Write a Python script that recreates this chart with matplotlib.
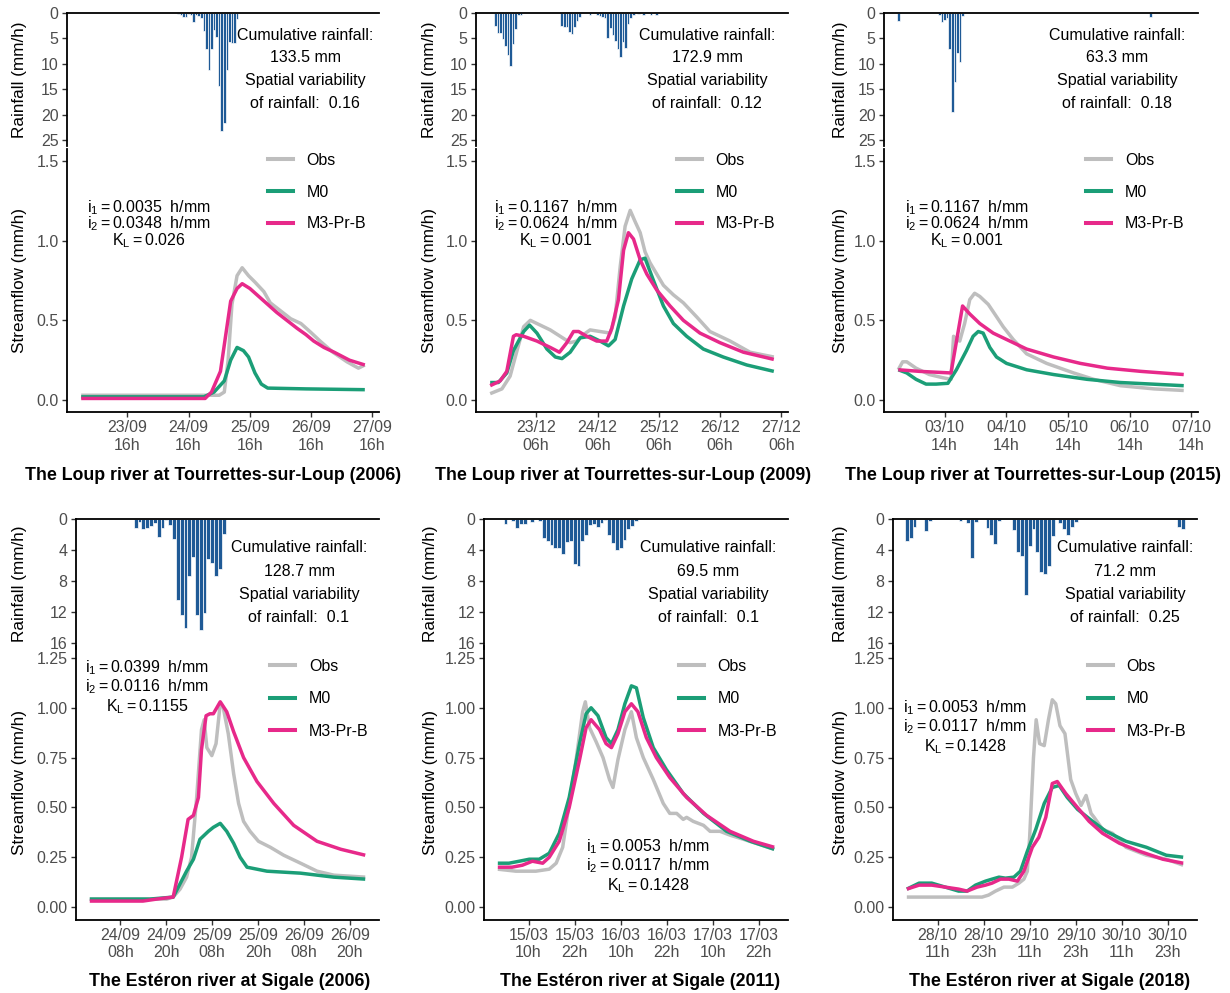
import matplotlib.pyplot as plt
from matplotlib.lines import Line2D

plt.rcParams["font.family"] = ["Liberation Sans", "DejaVu Sans"]
plt.rcParams["mathtext.fontset"] = "custom"
plt.rcParams["mathtext.rm"] = "Liberation Sans"
plt.rcParams["mathtext.it"] = "Liberation Sans:italic"
plt.rcParams["mathtext.bf"] = "Liberation Sans:bold"

OBS_COLOR = "#BEBEBE"
M0_COLOR = "#1B9E77"
M3_COLOR = "#E7298A"
RAIN_COLOR = "#1F5A96"
TICK_GRAY = "#4D4D4D"

TICK_SIZE = 11.5
AXIS_TITLE_SIZE = 12.3
TEXT_SIZE = 11.5
TITLE_SIZE = 12.8

# ---------------------------------------------------------------
# Data (time in hours from the first x tick of each panel)
# ---------------------------------------------------------------
# Loup 2006
L06_RAIN_T = list(range(20, 44))
L06_RAIN = [0.2, 0.3, 0.8, 0.8, 0.2, 0.3, 1.8, 0.3, 0.5, 1.0, 3.5, 7.0,
            11.2, 7.0, 3.3, 4.8, 14.3, 23.3, 21.7, 11.2, 5.7, 6.0, 6.0, 1.2]
L06_OBS_T = [-18, 30, 36, 38, 39.5, 41, 43, 45, 47.5, 50, 53.5, 56, 60, 64,
             68, 71.5, 75.5, 80.5, 86, 90.5, 93]
L06_OBS = [0.03, 0.03, 0.03, 0.05, 0.25, 0.6, 0.78, 0.83, 0.78, 0.74, 0.68,
           0.61, 0.56, 0.51, 0.48, 0.43, 0.37, 0.30, 0.24, 0.20, 0.22]
L06_M0_T = [-18, 30, 34, 38, 40.5, 43, 45.5, 47.5, 50, 52.5, 55, 70, 93]
L06_M0 = [0.02, 0.02, 0.05, 0.12, 0.25, 0.33, 0.31, 0.27, 0.17, 0.10, 0.075,
          0.07, 0.065]
L06_M3_T = [-18, 30.5, 33, 36.5, 38.5, 40.5, 43, 45, 48, 51.5, 55, 58.5, 62.5,
            66.5, 70, 73, 77, 81, 87, 93]
L06_M3 = [0.01, 0.01, 0.05, 0.18, 0.40, 0.62, 0.70, 0.73, 0.70, 0.65, 0.60,
          0.55, 0.50, 0.45, 0.41, 0.37, 0.33, 0.30, 0.25, 0.22]

# Loup 2009
L09_RAIN_T = [-16, -15, -14, -13, -12, -11, -10, -9, -8, -7, -6,
              10, 11, 12, 13, 14, 15, 16, 17, 21,
              24, 25, 26, 27, 28, 29, 30, 31, 32, 33, 34, 35, 36, 37, 38,
              40, 42, 45, 47]
L09_RAIN = [2.5, 3.9, 4.0, 5.2, 6.5, 8.3, 10.5, 6.1, 3.1, 0.3, 0.3,
            2.5, 2.7, 2.8, 3.7, 4.2, 2.7, 1.5, 0.7, 0.3,
            0.4, 0.6, 0.8, 1.0, 5.0, 3.0, 4.3, 5.5, 7.0, 8.6, 5.8, 6.8, 2.2,
            1.0, 0.3, 0.2, 0.3, 0.3, 0.3]
L09_OBS_T = [-18, -13.4, -10.2, -7.5, -4.9, -2.3, 1.6, 5.5, 9.4, 13.3, 15.9,
             18.5, 21.1, 25, 29, 30.9, 32.9, 34.8, 36.8, 38.7, 40.7, 42.6,
             44.6, 47.2, 49.8, 53.7, 57.6, 62.9, 68, 75.9, 83.7, 93]
L09_OBS = [0.04, 0.07, 0.15, 0.31, 0.46, 0.50, 0.47, 0.44, 0.40, 0.36, 0.37,
           0.41, 0.44, 0.43, 0.42, 0.52, 0.84, 1.09, 1.19, 1.12, 1.05, 0.93,
           0.86, 0.79, 0.72, 0.66, 0.61, 0.52, 0.43, 0.37, 0.30, 0.27]
L09_M0_T = [-18, -14.8, -11.5, -8.9, -4.9, -2.6, 0.3, 4.2, 7.5, 10.1, 13.3,
            17.2, 21.1, 25, 28.3, 30.9, 34.2, 37.4, 40.7, 42.6, 45.9, 49.8,
            53.7, 58.9, 65.4, 73.2, 82.4, 93]
L09_M0 = [0.11, 0.11, 0.17, 0.31, 0.43, 0.47, 0.42, 0.32, 0.27, 0.26, 0.30,
          0.39, 0.40, 0.37, 0.34, 0.38, 0.59, 0.76, 0.88, 0.89, 0.75, 0.59,
          0.48, 0.40, 0.32, 0.27, 0.22, 0.18]
L09_M3_T = [-18, -14.1, -11.5, -8.9, -7.8, -4.9, 0.3, 5.5, 9.1, 12, 14.6,
            16.6, 19.8, 23.7, 27.6, 29.6, 32.2, 34.2, 36.1, 38.1, 40.7, 43.3,
            47.2, 52.4, 57.6, 64.1, 71.9, 81.1, 93]
L09_M3 = [0.09, 0.12, 0.18, 0.40, 0.41, 0.40, 0.37, 0.33, 0.30, 0.36, 0.43,
          0.43, 0.40, 0.37, 0.37, 0.45, 0.63, 0.94, 1.05, 1.01, 0.88, 0.79,
          0.69, 0.59, 0.50, 0.42, 0.36, 0.30, 0.255]

# Loup 2015
L15_RAIN_T = [-18, -2, -1, 0, 1, 2, 3, 4, 5, 6, 7, 80]
L15_RAIN = [1.5, 0.3, 1.8, 1.4, 1.0, 7.0, 19.5, 13.5, 7.8, 9.6, 0.5, 0.7]
L15_OBS_T = [-18, -16.3, -14.7, -11.1, -5.9, -0.7, 2.5, 3.5, 4.6, 5.9, 7.8,
             9.8, 11.7, 13.7, 17, 19.5, 22.8, 26.7, 31.9, 39.7, 50.2, 58,
             68.4, 81.5, 93]
L15_OBS = [0.19, 0.24, 0.24, 0.20, 0.16, 0.14, 0.13, 0.40, 0.38, 0.37, 0.48,
           0.63, 0.67, 0.65, 0.60, 0.54, 0.46, 0.38, 0.29, 0.23, 0.17, 0.13,
           0.09, 0.07, 0.06]
L15_M0_T = [-18, -14.7, -11.1, -7.2, -3.3, 1.3, 4.6, 8.5, 11.1, 13.1, 15,
            17.6, 20.2, 24.1, 31.9, 42.4, 55.4, 68.4, 93]
L15_M0 = [0.19, 0.17, 0.13, 0.10, 0.10, 0.105, 0.19, 0.31, 0.40, 0.43, 0.42,
          0.33, 0.27, 0.23, 0.19, 0.16, 0.13, 0.11, 0.09]
L15_M3_T = [-18, -9.8, 2.5, 7, 9.8, 13.7, 18.9, 24.1, 31.9, 42.4, 52.8, 63.3,
            76.3, 93]
L15_M3 = [0.19, 0.18, 0.17, 0.59, 0.54, 0.48, 0.42, 0.38, 0.32, 0.27, 0.23,
          0.20, 0.18, 0.16]

# Esteron 2006
E06_RAIN_T = list(range(4, 28))
E06_RAIN = [1.1, 0.4, 1.3, 1.2, 0.9, 0.5, 2.3, 1.1, 0.1, 0.8, 2.6, 10.5,
            12.4, 14.0, 7.3, 4.9, 12.4, 14.3, 12.1, 5.1, 5.7, 7.3, 6.5, 1.9]
E06_OBS_T = [-8, 12.1, 13.8, 15.6, 17.3, 18.6, 19.9, 21.2, 21.9, 22.6, 23.9,
             25, 26.1, 26.9, 28.2, 29.6, 30.9, 32.2, 33.9, 36.1, 39.2, 42.7,
             47.1, 51.4, 55.8, 64]
E06_OBS = [0.04, 0.04, 0.05, 0.09, 0.15, 0.25, 0.54, 0.89, 0.94, 0.80, 0.76,
           0.82, 1.02, 1.00, 0.87, 0.67, 0.52, 0.43, 0.38, 0.33, 0.30, 0.26,
           0.22, 0.18, 0.16, 0.15]
E06_M0_T = [-8, 7.7, 13.8, 17.3, 19.1, 20.8, 23, 24.3, 26.1, 27.8, 29.6, 31.3,
            33.1, 38.3, 47.1, 55.8, 64]
E06_M0 = [0.04, 0.04, 0.05, 0.18, 0.24, 0.34, 0.38, 0.40, 0.42, 0.38, 0.32,
          0.25, 0.20, 0.18, 0.17, 0.15, 0.14]
E06_M3_T = [-8, 5.9, 9.5, 13.8, 16, 17.7, 19.1, 20.4, 21.2, 22.4, 23.4, 24.3,
            26.1, 27.8, 29.6, 32.2, 35.7, 40.1, 45.3, 51.4, 57.6, 64]
E06_M3 = [0.03, 0.03, 0.04, 0.05, 0.25, 0.44, 0.46, 0.55, 0.79, 0.96, 0.97,
          0.97, 1.03, 0.98, 0.88, 0.75, 0.63, 0.52, 0.41, 0.33, 0.29, 0.26]

# Esteron 2011
E11_RAIN_T = [-6, -4, -3, -2, -1, 1, 3, 4, 5, 6, 7, 8, 9, 10, 11, 12, 13, 14,
              15, 16, 17, 18, 19, 20, 21, 22, 23, 24, 25, 26, 27, 28]
E11_RAIN = [0.7, 0.3, 1.2, 0.7, 0.6, 0.4, 0.2, 2.5, 2.8, 3.4, 3.8, 3.7, 4.5,
            3.0, 2.9, 5.8, 6.0, 2.8, 2.0, 0.8, 0.6, 1.0, 0.5, 0.1, 2.1, 3.1,
            4.0, 3.8, 2.7, 1.3, 0.9, 0.2]
E11_OBS_T = [-8, -3.3, 1.9, 5.4, 7.2, 8.9, 10.6, 12.4, 14.1, 14.8, 15.9, 17.6,
             19.4, 21.1, 22, 23.3, 25.1, 26.8, 28.1, 29.9, 32.5, 35.1, 36.8,
             38.6, 40.3, 41.2, 42.9, 45.6, 47.3, 49.9, 52.6, 56, 64]
E11_OBS = [0.19, 0.18, 0.18, 0.19, 0.22, 0.30, 0.52, 0.74, 0.98, 1.03, 0.90,
           0.83, 0.75, 0.64, 0.60, 0.74, 0.89, 0.98, 0.85, 0.75, 0.64, 0.52,
           0.47, 0.47, 0.44, 0.45, 0.43, 0.41, 0.38, 0.38, 0.36, 0.34, 0.29]
E11_M0_T = [-8, -5.1, -2.4, 0.2, 2.8, 5.4, 8, 10.6, 13.3, 15, 16.3, 18.1, 20.2,
            21.6, 23.3, 25.1, 26.8, 28.1, 29.9, 32.5, 35.9, 40.3, 45.6, 51.6,
            57.8, 64]
E11_M0 = [0.22, 0.22, 0.23, 0.24, 0.24, 0.27, 0.37, 0.55, 0.82, 0.97, 1.00,
          0.96, 0.85, 0.82, 0.89, 1.02, 1.11, 1.10, 0.95, 0.80, 0.69, 0.57,
          0.47, 0.38, 0.33, 0.29]
E11_M3_T = [-8, -4.3, -1.6, 1, 3.7, 5.4, 8, 10.6, 13.3, 15, 16.3, 18.5, 20.2,
            21.6, 23.3, 25.1, 26.8, 28.5, 30.7, 33.3, 36.8, 41.2, 46.4, 52.5,
            58.6, 64]
E11_M3 = [0.20, 0.20, 0.21, 0.23, 0.22, 0.25, 0.33, 0.50, 0.74, 0.90, 0.94,
          0.89, 0.82, 0.80, 0.87, 0.98, 1.02, 0.98, 0.85, 0.75, 0.65, 0.55,
          0.46, 0.38, 0.33, 0.30]

# Esteron 2018
E18_RAIN_T = [-8, -7, -6, -3, -2, 6, 8, 9, 10, 13, 14, 15, 16, 20, 21, 22, 23,
              24, 25, 26, 27, 28, 29, 30, 32, 33, 34, 35, 36, 63, 64]
E18_RAIN = [2.9, 2.4, 1.0, 1.5, 0.2, 0.2, 0.5, 5.0, 0.4, 1.1, 2.1, 3.2, 0.3,
            1.4, 4.2, 4.8, 9.8, 3.5, 1.3, 4.2, 6.9, 7.1, 6.1, 2.2, 0.5, 1.3,
            2.0, 1.0, 0.4, 1.0, 1.3]
E18_OBS_T = [-8, 11.6, 13.3, 15.1, 17.3, 19.5, 21.2, 22.5, 23.4, 24, 25, 25.7,
             26.6, 27.8, 28.9, 29.9, 30.8, 31.9, 33.2, 34.7, 36, 37.4, 38.7,
             40, 40.8, 43, 45.6, 49.1, 54.4, 59.6, 64]
E18_OBS = [0.05, 0.05, 0.06, 0.08, 0.10, 0.10, 0.12, 0.14, 0.18, 0.35, 0.75,
           0.94, 0.82, 0.81, 0.94, 1.04, 1.02, 0.91, 0.87, 0.64, 0.57, 0.51,
           0.56, 0.47, 0.45, 0.39, 0.37, 0.30, 0.26, 0.24, 0.21]
E18_M0_T = [-8, -4.8, -1.5, 2, 5.5, 7.7, 9.9, 12.5, 14.2, 16, 17.7, 19.9, 21.6,
            23.4, 25.6, 27.8, 29.9, 31.7, 33.8, 36.5, 40.4, 43.9, 49.1, 54.4,
            59.6, 64]
E18_M0 = [0.09, 0.12, 0.12, 0.10, 0.08, 0.08, 0.11, 0.13, 0.14, 0.15, 0.145,
          0.15, 0.18, 0.28, 0.39, 0.52, 0.60, 0.61, 0.55, 0.49, 0.43, 0.38,
          0.33, 0.30, 0.26, 0.25]
E18_M3_T = [-8, -4.8, -1.5, 2, 5.5, 7.7, 10.3, 12.5, 14.2, 16.4, 18.6, 20.8,
            22.5, 24.7, 26.4, 28.2, 29.9, 31.2, 33.4, 36, 39.5, 43, 47.4, 52.6,
            58.7, 64]
E18_M3 = [0.09, 0.11, 0.11, 0.10, 0.09, 0.08, 0.10, 0.11, 0.12, 0.14, 0.14,
          0.13, 0.18, 0.30, 0.35, 0.45, 0.62, 0.63, 0.57, 0.51, 0.43, 0.37,
          0.32, 0.28, 0.24, 0.22]

TOP_TICK_LABELS = [
    ["23/09\n16h", "24/09\n16h", "25/09\n16h", "26/09\n16h", "27/09\n16h"],
    ["23/12\n06h", "24/12\n06h", "25/12\n06h", "26/12\n06h", "27/12\n06h"],
    ["03/10\n14h", "04/10\n14h", "05/10\n14h", "06/10\n14h", "07/10\n14h"],
]
BOTTOM_TICK_LABELS = [
    ["24/09\n08h", "24/09\n20h", "25/09\n08h", "25/09\n20h", "26/09\n08h", "26/09\n20h"],
    ["15/03\n10h", "15/03\n22h", "16/03\n10h", "16/03\n22h", "17/03\n10h", "17/03\n22h"],
    ["28/10\n11h", "28/10\n23h", "29/10\n11h", "29/10\n23h", "30/10\n11h", "30/10\n23h"],
]
TITLES = [
    "The Loup river at Tourrettes-sur-Loup (2006)",
    "The Loup river at Tourrettes-sur-Loup (2009)",
    "The Loup river at Tourrettes-sur-Loup (2015)",
    "The Estéron river at Sigale (2006)",
    "The Estéron river at Sigale (2011)",
    "The Estéron river at Sigale (2018)",
]
CUM_RAIN = ["133.5", "172.9", "63.3", "128.7", "69.5", "71.2"]
SPATIAL_VAR = ["0.16", "0.12", "0.18", "0.1", "0.1", "0.25"]
PARAMS = [
    ("0.0035", "0.0348", "0.026"),
    ("0.1167", "0.0624", "0.001"),
    ("0.1167", "0.0624", "0.001"),
    ("0.0399", "0.0116", "0.1155"),
    ("0.0053", "0.0117", "0.1428"),
    ("0.0053", "0.0117", "0.1428"),
]

SERIES = [
    (L06_RAIN_T, L06_RAIN, L06_OBS_T, L06_OBS, L06_M0_T, L06_M0, L06_M3_T, L06_M3),
    (L09_RAIN_T, L09_RAIN, L09_OBS_T, L09_OBS, L09_M0_T, L09_M0, L09_M3_T, L09_M3),
    (L15_RAIN_T, L15_RAIN, L15_OBS_T, L15_OBS, L15_M0_T, L15_M0, L15_M3_T, L15_M3),
    (E06_RAIN_T, E06_RAIN, E06_OBS_T, E06_OBS, E06_M0_T, E06_M0, E06_M3_T, E06_M3),
    (E11_RAIN_T, E11_RAIN, E11_OBS_T, E11_OBS, E11_M0_T, E11_M0, E11_M3_T, E11_M3),
    (E18_RAIN_T, E18_RAIN, E18_OBS_T, E18_OBS, E18_M0_T, E18_M0, E18_M3_T, E18_M3),
]

# ---------------------------------------------------------------
# Layout (pixels)
# ---------------------------------------------------------------
W, H = 1230, 993
fig = plt.figure(figsize=(W / 100, H / 100), dpi=100)
fig.patch.set_facecolor("white")


def add_px_axes(left, top, right, bottom):
    return fig.add_axes([left / W, 1 - bottom / H, (right - left) / W, (bottom - top) / H])


def fig_text(x, y, s, **kw):
    fig.text(x / W, 1 - y / H, s, **kw)


def style_axis(ax):
    for side in ["left", "bottom", "top", "right"]:
        ax.spines[side].set_linewidth(1.3)
        ax.spines[side].set_color("black")
    ax.tick_params(axis="both", length=3.5, width=1.0, color="#333333",
                   labelsize=TICK_SIZE, labelcolor=TICK_GRAY, pad=2.5)


TOP_COLS = [(67, 379), (476, 788), (884, 1198)]
BOTTOM_COLS = [(76, 379), (484, 788), (893, 1197)]
COL_OFFSETS = [0, 410, 820]

ROWS = [
    dict(rain=(13, 146.4), flow=(149, 412), rain_max=26.25, rain_ticks=[0, 5, 10, 15, 20, 25],
         ylim=(-0.075, 1.575), yticks=[0, 0.5, 1.0, 1.5], yfmt="{:.1f}",
         xlim=(-23.55, 98.55), xticks=[0, 24, 48, 72, 96],
         title_y=475, title_dx=213, rain_text_y=[35, 58, 81, 104],
         rain_text_x=[305, 707, 1117], legend_y=0.985, legend_x=0.643,
         legend_spacing=1.05, param_spacing=0.86),
    dict(rain=(519, 649.2), flow=(645.5, 919.5), rain_max=16.8, rain_ticks=[0, 4, 8, 12, 16],
         ylim=(-0.0625, 1.3125), yticks=[0, 0.25, 0.5, 0.75, 1.0, 1.25], yfmt="{:.2f}",
         xlim=(-11.6, 67.6), xticks=[0, 12, 24, 36, 48, 60],
         title_y=981, title_dx=230, rain_text_y=[548, 571, 594, 617],
         rain_text_x=[299, 708, 1125], legend_y=0.952, legend_x=0.64,
         legend_spacing=1.1, param_spacing=1.08),
]

# centre x and middle-line y of the parameter labels
PARAM_POS = [(149, 224), (556, 224), (967, 224), (147, 687), (648, 866), (965, 727)]

for i in range(6):
    row = ROWS[i // 3]
    col = i % 3
    left, right = (TOP_COLS if i < 3 else BOTTOM_COLS)[col]
    tick_labels = (TOP_TICK_LABELS if i < 3 else BOTTOM_TICK_LABELS)[col]
    rain_t, rain, obs_t, obs, m0_t, m0, m3_t, m3 = SERIES[i]

    # ---- streamflow panel ----
    ax = add_px_axes(left, row["flow"][0], right, row["flow"][1])
    ax.plot(obs_t, obs, color=OBS_COLOR, lw=2.5, solid_capstyle="butt")
    ax.plot(m0_t, m0, color=M0_COLOR, lw=2.5, solid_capstyle="butt")
    ax.plot(m3_t, m3, color=M3_COLOR, lw=2.5, solid_capstyle="butt")
    ax.set_xlim(*row["xlim"])
    ax.set_ylim(*row["ylim"])
    ax.set_xticks(row["xticks"])
    ax.set_xticklabels(tick_labels)
    ax.set_yticks(row["yticks"])
    ax.set_yticklabels([row["yfmt"].format(v) for v in row["yticks"]])
    ax.spines["top"].set_visible(False)
    ax.spines["right"].set_visible(False)
    style_axis(ax)
    ax.set_ylabel("Streamflow (mm/h)", fontsize=AXIS_TITLE_SIZE)
    ax.yaxis.label.set_verticalalignment("center")
    ax.yaxis.set_label_coords((COL_OFFSETS[col] + 20 - left) / (right - left), 0.5)

    handles = [Line2D([], [], color=c, lw=2.9) for c in (OBS_COLOR, M0_COLOR, M3_COLOR)]
    ax.legend(handles, ["Obs", "M0", "M3-Pr-B"], loc="upper left",
              bbox_to_anchor=(row["legend_x"], row["legend_y"]), frameon=False,
              borderpad=0, borderaxespad=0, handlelength=1.6, handletextpad=0.85,
              labelspacing=row["legend_spacing"], fontsize=TEXT_SIZE)

    i1, i2, kl = PARAMS[i]
    cx, cy = PARAM_POS[i]
    params = "\n".join([r"$\mathregular{i_1 = %s}$  h/mm" % i1,
                        r"$\mathregular{i_2 = %s}$  h/mm" % i2,
                        r"$\mathregular{K_L = %s}$" % kl])
    fig_text(cx, cy, params, ha="center", va="center", multialignment="center",
             linespacing=row["param_spacing"], fontsize=TEXT_SIZE)

    fig_text(COL_OFFSETS[col] + row["title_dx"], row["title_y"], TITLES[i], ha="center",
             va="center", fontsize=TITLE_SIZE, fontweight="bold")

    # ---- rainfall panel (inverted bars) ----
    rax = add_px_axes(left, row["rain"][0], right, row["rain"][1])
    rax.set_facecolor("none")
    rax.bar(rain_t, rain, width=1.0, color=RAIN_COLOR, edgecolor="white", linewidth=0.5)
    rax.set_xlim(*row["xlim"])
    rax.set_ylim(row["rain_max"], 0)
    rax.set_yticks(row["rain_ticks"])
    rax.set_xticks([])
    rax.spines["bottom"].set_visible(False)
    rax.spines["right"].set_visible(False)
    style_axis(rax)
    rax.set_ylabel("Rainfall (mm/h)", fontsize=AXIS_TITLE_SIZE)
    rax.yaxis.label.set_verticalalignment("center")
    rax.yaxis.set_label_coords((COL_OFFSETS[col] + 20 - left) / (right - left), 0.5)

    tx = row["rain_text_x"][col]
    lines = ["Cumulative rainfall:", CUM_RAIN[i] + " mm", "Spatial variability",
             "of rainfall:  " + SPATIAL_VAR[i]]
    for s, y in zip(lines, row["rain_text_y"]):
        fig_text(tx, y, s, ha="center", va="center", fontsize=TEXT_SIZE)

fig.savefig("out.png", dpi=100, facecolor="white")
